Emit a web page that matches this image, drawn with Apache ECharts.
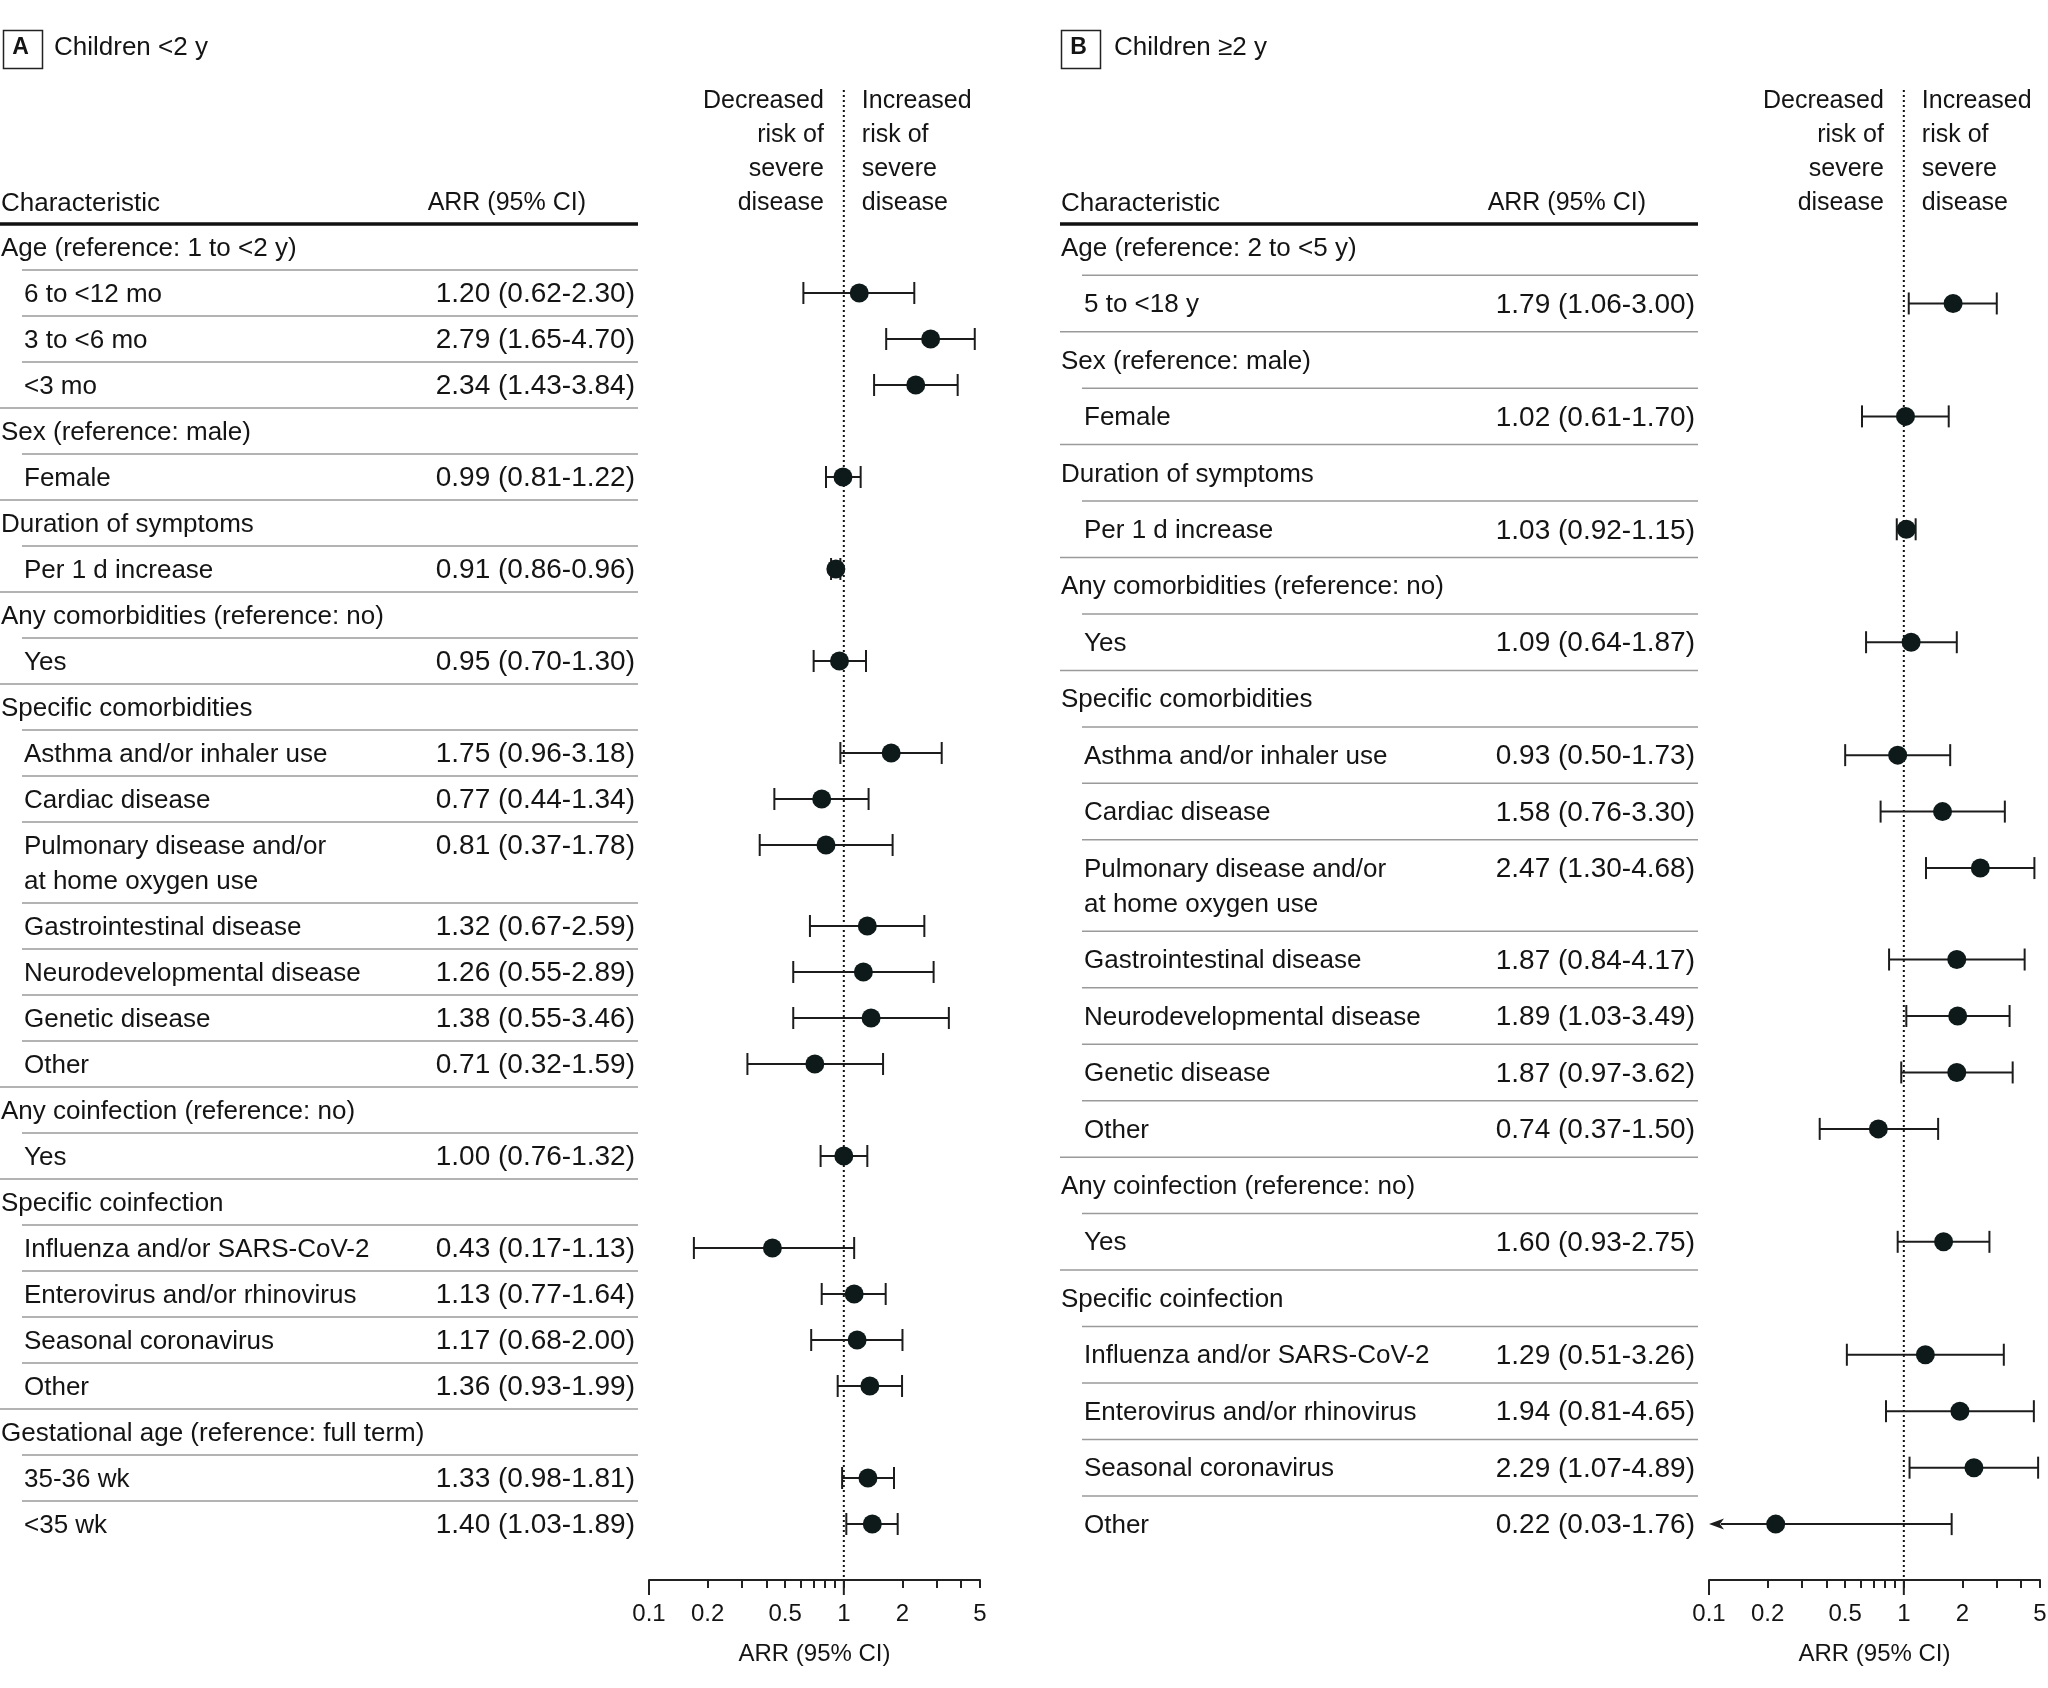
<!DOCTYPE html>
<html><head><meta charset="utf-8">
<script src="https://cdn.jsdelivr.net/npm/echarts@6/dist/echarts.min.js"></script>
<style>html,body{margin:0;padding:0;background:#fff}#c{width:2048px;height:1688px}</style>
</head><body><div id="c"></div>
<script>
// ---------- DATA ----------
const titleA = 'Children <2 y';
const titleB = 'Children \u22652 y';

const labelsA = [
  'Age (reference: 1 to <2 y)', '6 to <12 mo', '3 to <6 mo', '<3 mo',
  'Sex (reference: male)', 'Female',
  'Duration of symptoms', 'Per 1 d increase',
  'Any comorbidities (reference: no)', 'Yes',
  'Specific comorbidities', 'Asthma and/or inhaler use', 'Cardiac disease',
  'Pulmonary disease and/or\nat home oxygen use', 'Gastrointestinal disease',
  'Neurodevelopmental disease', 'Genetic disease', 'Other',
  'Any coinfection (reference: no)', 'Yes',
  'Specific coinfection', 'Influenza and/or SARS-CoV-2', 'Enterovirus and/or rhinovirus',
  'Seasonal coronavirus', 'Other',
  'Gestational age (reference: full term)', '35-36 wk', '<35 wk'
];
const estA  = [null, 1.20, 2.79, 2.34, null, 0.99, null, 0.91, null, 0.95, null, 1.75, 0.77, 0.81, 1.32, 1.26, 1.38, 0.71, null, 1.00, null, 0.43, 1.13, 1.17, 1.36, null, 1.33, 1.40];
const lowA  = [null, 0.62, 1.65, 1.43, null, 0.81, null, 0.86, null, 0.70, null, 0.96, 0.44, 0.37, 0.67, 0.55, 0.55, 0.32, null, 0.76, null, 0.17, 0.77, 0.68, 0.93, null, 0.98, 1.03];
const highA = [null, 2.30, 4.70, 3.84, null, 1.22, null, 0.96, null, 1.30, null, 3.18, 1.34, 1.78, 2.59, 2.89, 3.46, 1.59, null, 1.32, null, 1.13, 1.64, 2.00, 1.99, null, 1.81, 1.89];

const labelsB = [
  'Age (reference: 2 to <5 y)', '5 to <18 y',
  'Sex (reference: male)', 'Female',
  'Duration of symptoms', 'Per 1 d increase',
  'Any comorbidities (reference: no)', 'Yes',
  'Specific comorbidities', 'Asthma and/or inhaler use', 'Cardiac disease',
  'Pulmonary disease and/or\nat home oxygen use', 'Gastrointestinal disease',
  'Neurodevelopmental disease', 'Genetic disease', 'Other',
  'Any coinfection (reference: no)', 'Yes',
  'Specific coinfection', 'Influenza and/or SARS-CoV-2', 'Enterovirus and/or rhinovirus',
  'Seasonal coronavirus', 'Other'
];
const estB  = [null, 1.79, null, 1.02, null, 1.03, null, 1.09, null, 0.93, 1.58, 2.47, 1.87, 1.89, 1.87, 0.74, null, 1.60, null, 1.29, 1.94, 2.29, 0.22];
const lowB  = [null, 1.06, null, 0.61, null, 0.92, null, 0.64, null, 0.50, 0.76, 1.30, 0.84, 1.03, 0.97, 0.37, null, 0.93, null, 0.51, 0.81, 1.07, 0.03];
const highB = [null, 3.00, null, 1.70, null, 1.15, null, 1.87, null, 1.73, 3.30, 4.68, 4.17, 3.49, 3.62, 1.50, null, 2.75, null, 3.26, 4.65, 4.89, 1.76];

const tickValues = [0.1, 0.2, 0.3, 0.4, 0.5, 0.6, 0.7, 0.8, 0.9, 1, 2, 3, 4, 5];
const tickLabels = [0.1, 0.2, 0.5, 1, 2, 5];
const longTicks = [0.1, 1];
const axisTitle = 'ARR (95% CI)';
const colHeadLeft = 'Characteristic';
const colHeadRight = 'ARR (95% CI)';
const leftNote = 'Decreased\nrisk of\nsevere\ndisease';
const rightNote = 'Increased\nrisk of\nsevere\ndisease';

// ---------- LAYOUT ----------
const FONT = "'Liberation Sans', Arial, sans-serif";
const TXT = '#141414';
const GRID_TOP = 224, AXIS_Y = 1580, PLOT_W = 331;
const Y_MAX = AXIS_Y - GRID_TOP;
const LINE_H = 35;
const TY = 1.5; // text baseline nudge

function layoutRows(labels, rowH, firstCenter) {
  const centers = [], bounds = [];
  let c = firstCenter;
  labels.forEach(l => {
    const extra = l.split('\n').length - 1;
    centers.push(c);
    const b = c + rowH / 2 + extra * LINE_H;
    bounds.push(b);
    c = b + rowH / 2;
  });
  return { centers, bounds };
}

const panels = [
  { id: 'A', title: titleA, x0: 0, boxX: 1, labels: labelsA, est: estA, low: lowA, high: highA, rowH: 46 },
  { id: 'B', title: titleB, x0: 1060, boxX: 1059, labels: labelsB, est: estB, low: lowB, high: highB, rowH: 56.46 }
];

const fmt = v => v.toFixed(2);

const grids = [], xAxes = [], yAxes = [], series = [], graphics = [];

panels.forEach((p, pi) => {
  const lay = layoutRows(p.labels, p.rowH, 23);
  grids.push({ left: p.x0 + 649, top: GRID_TOP, width: PLOT_W, height: Y_MAX, outerBoundsMode: 'none', containLabel: false });
  xAxes.push({
    type: 'log', logBase: 10, min: 0.1, max: 5, gridIndex: pi, position: 'bottom',
    axisLine: { show: true, onZero: false, lineStyle: { color: '#222', width: 2 } },
    axisTick: { show: true, inside: false, length: 8, lineStyle: { color: '#222', width: 2 }, customValues: tickValues },
    axisLabel: { show: true, customValues: tickLabels, formatter: v => String(+(+v).toFixed(2)), fontSize: 24, fontFamily: FONT, color: TXT, margin: 22 },
    splitLine: { show: false }, minorTick: { show: false },
    name: axisTitle, nameLocation: 'middle', nameGap: 62,
    nameTextStyle: { fontSize: 24, fontFamily: FONT, color: TXT }
  });
  yAxes.push({ type: 'value', gridIndex: pi, min: 0, max: Y_MAX, inverse: true, show: false });

  // reference dotted line + header notes
  series.push({
    type: 'custom', xAxisIndex: pi, yAxisIndex: pi, z: 1, silent: true,
    data: [[1, 0]],
    renderItem: (params, api) => {
      const x = api.coord([1, 0])[0];
      const yb = api.coord([1, Y_MAX])[1];
      return { type: 'group', children: [
        { type: 'line', shape: { x1: x, y1: 90, x2: x, y2: yb }, style: { stroke: '#111', lineWidth: 2, lineDash: [2, 3] } },
        { type: 'text', x: x - 20, y: 219 + TY, style: { text: leftNote, align: 'right', verticalAlign: 'bottom', lineHeight: 34, fontSize: 25, fontFamily: FONT, fill: TXT } },
        { type: 'text', x: x + 18, y: 219 + TY, style: { text: rightNote, align: 'left', verticalAlign: 'bottom', lineHeight: 34, fontSize: 25, fontFamily: FONT, fill: TXT } }
      ] };
    }
  });

  // long ticks at 0.1 and 1
  series.push({
    type: 'custom', xAxisIndex: pi, yAxisIndex: pi, z: 2, silent: true,
    data: longTicks.map(v => [v, Y_MAX]),
    renderItem: (params, api) => {
      const c = api.coord([api.value(0), api.value(1)]);
      return { type: 'line', shape: { x1: c[0], y1: c[1], x2: c[0], y2: c[1] + 15 }, style: { stroke: '#222', lineWidth: 2 } };
    }
  });

  // table
  series.push({
    type: 'custom', xAxisIndex: pi, yAxisIndex: pi, z: 2, silent: true,
    data: p.labels.map((l, i) => [1, lay.centers[i]]),
    renderItem: (params, api) => {
      const i = params.dataIndex;
      const yc = api.coord([1, api.value(1)])[1];
      const isItem = p.est[i] != null;
      const ch = [];
      ch.push({ type: 'text', x: p.x0 + (isItem ? 24 : 1), y: yc - LINE_H / 2 + TY,
        style: { text: p.labels[i], align: 'left', verticalAlign: 'top', lineHeight: LINE_H, fontSize: 26, fontFamily: FONT, fill: TXT } });
      if (isItem) {
        ch.push({ type: 'text', x: p.x0 + 635, y: yc + TY, style: {
          text: fmt(p.est[i]) + ' (' + fmt(p.low[i]) + '-' + fmt(p.high[i]) + ')',
          align: 'right', verticalAlign: 'middle', fontSize: 28, fontFamily: FONT, fill: TXT } });
      }
      if (i > 0) {
        const ys = api.coord([1, lay.bounds[i - 1]])[1];
        ch.push({ type: 'line', shape: { x1: p.x0 + (isItem ? 22 : 0), y1: ys, x2: p.x0 + 638, y2: ys }, style: { stroke: '#9a9a9a', lineWidth: 1.5 } });
      } else {
        const yt = api.coord([1, 0])[1];
        ch.push({ type: 'line', shape: { x1: p.x0, y1: yt, x2: p.x0 + 638, y2: yt }, style: { stroke: '#111', lineWidth: 3.5 } });
        ch.push({ type: 'text', x: p.x0 + 1, y: 202 + TY, style: { text: colHeadLeft, align: 'left', verticalAlign: 'middle', fontSize: 26, fontFamily: FONT, fill: TXT } });
        ch.push({ type: 'text', x: p.x0 + 586, y: 202 + TY, style: { text: colHeadRight, align: 'right', verticalAlign: 'middle', fontSize: 25, fontFamily: FONT, fill: TXT } });
      }
      return { type: 'group', children: ch };
    }
  });

  // forest marks
  const fdata = [];
  p.est.forEach((e, i) => { if (e != null) fdata.push([e, p.low[i], p.high[i], lay.centers[i]]); });
  series.push({
    type: 'custom', xAxisIndex: pi, yAxisIndex: pi, z: 3, silent: true,
    encode: { x: [0, 1, 2], y: 3 },
    data: fdata,
    renderItem: (params, api) => {
      const e = api.value(0), lo = api.value(1), hi = api.value(2), yv = api.value(3);
      const c = api.coord([e, yv]);
      const y = c[1];
      const clipped = lo < 0.1;
      const xl = api.coord([clipped ? 0.1 : lo, yv])[0];
      const xh = api.coord([hi, yv])[0];
      const st = { stroke: '#1c1c1c', lineWidth: 2 };
      const ch = [
        { type: 'line', shape: { x1: clipped ? xl + 12 : xl, y1: y, x2: xh, y2: y }, style: st },
        { type: 'line', shape: { x1: xh, y1: y - 11, x2: xh, y2: y + 11 }, style: st }
      ];
      if (clipped) {
        ch.push({ type: 'polygon', shape: { points: [[xl, y], [xl + 15, y - 5.5], [xl + 11, y], [xl + 15, y + 5.5]] }, style: { fill: '#1c1c1c' } });
      } else {
        ch.push({ type: 'line', shape: { x1: xl, y1: y - 11, x2: xl, y2: y + 11 }, style: st });
      }
      ch.push({ type: 'circle', shape: { cx: c[0], cy: y, r: 9.5 }, style: { fill: '#0e1a1a' } });
      return { type: 'group', children: ch };
    }
  });

  // panel title
  graphics.push({ type: 'rect', left: p.boxX, top: 28, shape: { width: 39, height: 38 }, style: { fill: 'none', stroke: '#222', lineWidth: 1.5 } });
  graphics.push({ type: 'text', x: p.boxX + 19.5, y: 47.5, style: { text: p.id, align: 'center', verticalAlign: 'middle', fontSize: 23, fontWeight: 'bold', fontFamily: FONT, fill: TXT } });
  graphics.push({ type: 'text', x: p.x0 + 54, y: 47.5, style: { text: p.title, align: 'left', verticalAlign: 'middle', fontSize: 26, fontFamily: FONT, fill: TXT } });
});

const chart = echarts.init(document.getElementById('c'), null, { renderer: 'canvas' });
chart.setOption({
  backgroundColor: '#fff',
  animation: false,
  grid: grids, xAxis: xAxes, yAxis: yAxes, series: series,
  graphic: graphics
});
</script></body></html>
